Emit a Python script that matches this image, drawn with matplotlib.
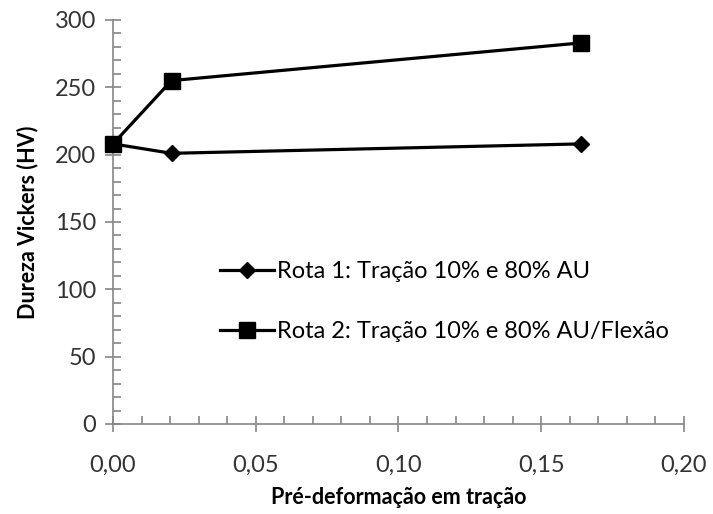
import matplotlib
matplotlib.use("Agg")
import matplotlib.pyplot as plt
from matplotlib.ticker import MultipleLocator, FuncFormatter

# dados
pre_deformacao = [0.0, 0.0205, 0.164]
rota1 = [208, 201, 208]
rota2 = [208, 255, 283]
rotulos = ["Rota 1: Tração 10% e 80% AU", "Rota 2: Tração 10% e 80% AU/Flexão"]

plt.rcParams["font.family"] = ["Lato", "DejaVu Sans"]
axis_gray = "#868686"

fig = plt.figure(figsize=(7.13, 5.14), dpi=100)
ax = fig.add_axes([0.1585, 0.1751, 0.8008, 0.7860])

ax.plot(pre_deformacao, rota1, color="black", lw=2.3, marker="D", ms=8.5,
        label=rotulos[0], clip_on=False, zorder=3)
ax.plot(pre_deformacao, rota2, color="black", lw=2.3, marker="s", ms=11,
        label=rotulos[1], clip_on=False, zorder=3)

ax.set_xlim(0, 0.20)
ax.set_ylim(0, 300)
ax.xaxis.set_major_locator(MultipleLocator(0.05))
ax.xaxis.set_minor_locator(MultipleLocator(0.01))
ax.yaxis.set_major_locator(MultipleLocator(50))
ax.yaxis.set_minor_locator(MultipleLocator(10))
ax.xaxis.set_major_formatter(FuncFormatter(lambda v, p: f"{v:.2f}".replace(".", ",")))

for s in ["top", "right"]:
    ax.spines[s].set_visible(False)
for s in ["left", "bottom"]:
    ax.spines[s].set_color(axis_gray)
    ax.spines[s].set_linewidth(1.2)

ax.tick_params(which="major", direction="inout", length=12, width=1.2,
               color=axis_gray, labelsize=17, labelcolor="#333333")
ax.tick_params(which="minor", direction="in", length=6, width=1.2, color=axis_gray)
ax.tick_params(axis="x", pad=16)
ax.tick_params(axis="y", pad=6)

ax.set_xlabel("Pré-deformação em tração", fontsize=15.5, fontweight="bold", labelpad=8)
ax.set_ylabel("Dureza Vickers (HV)", fontsize=15.5, fontweight="bold", labelpad=12)

ax.legend(loc="upper left", bbox_to_anchor=(0.15, 0.455), frameon=False,
          fontsize=17, handlelength=2.3, handletextpad=0.1, labelspacing=1.65)

fig.savefig("out.png", dpi=100)
